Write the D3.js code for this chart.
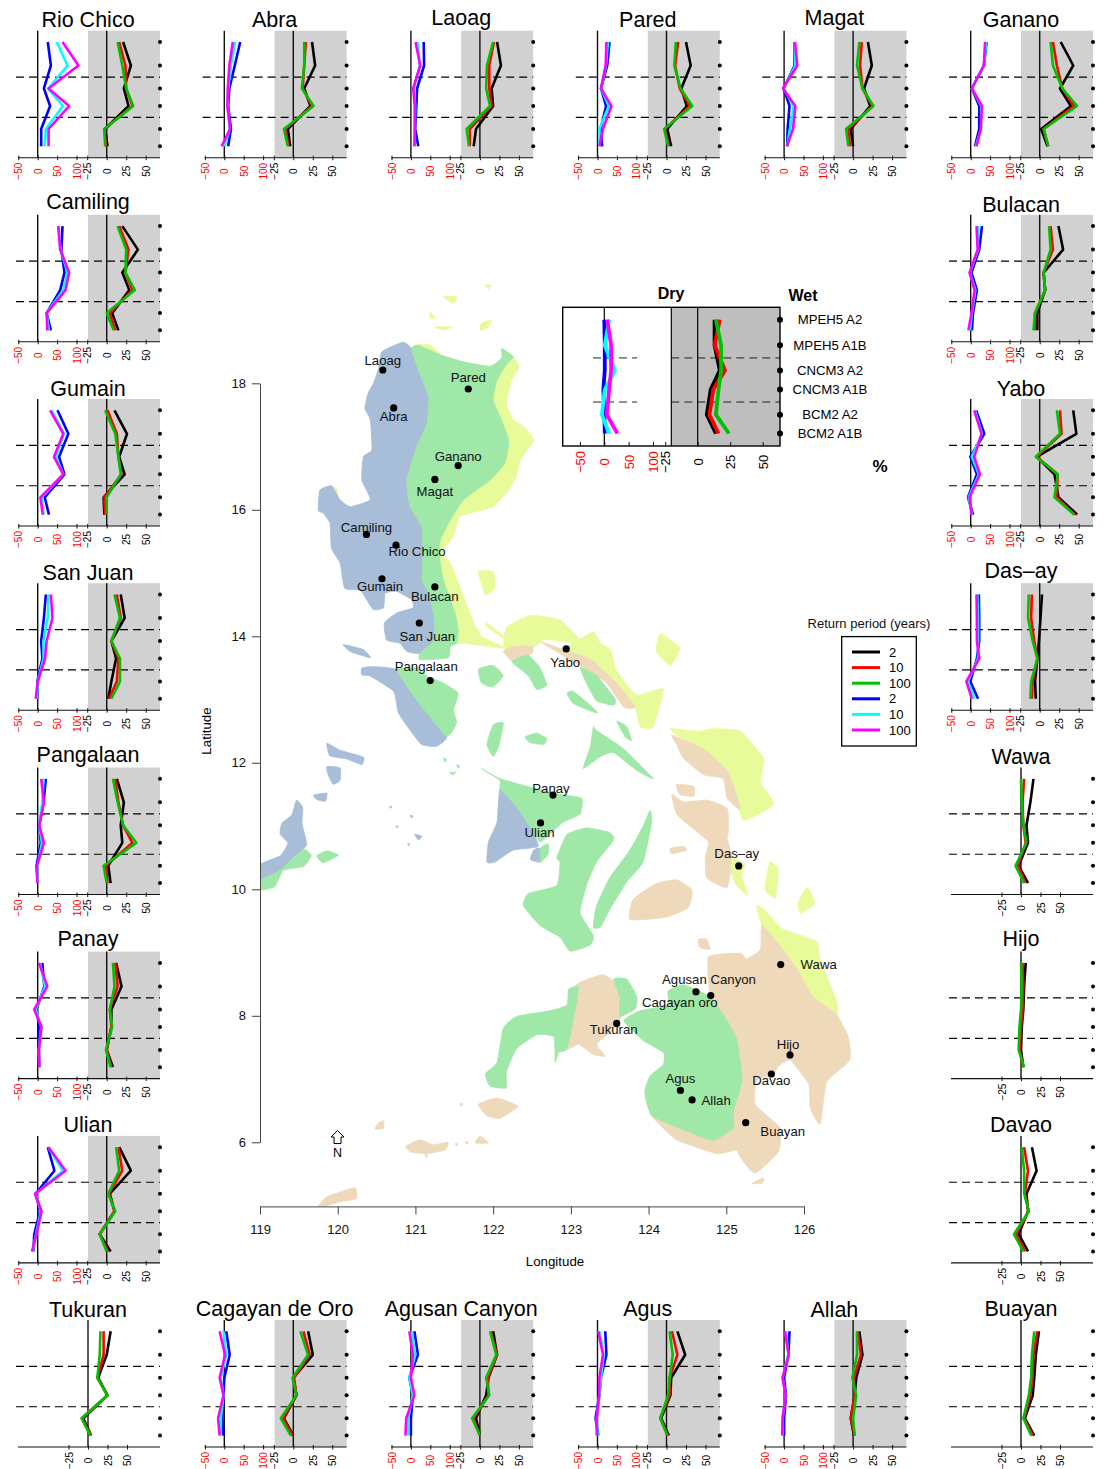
<!DOCTYPE html>
<html>
<head>
<meta charset="utf-8">
<script src="https://cdn.jsdelivr.net/npm/d3@7/dist/d3.min.js"></script>
<style>
	html, body { margin: 0; padding: 0; background: #fff; }
	svg { display: block; font-family: "Liberation Sans", Arial, sans-serif; }
</style>
</head>
<body>
<div id="grafico"></div>
<script>
'use strict';

var models = ["MPEH5 A2", "MPEH5 A1B", "CNCM3 A2", "CNCM3 A1B", "BCM2 A2", "BCM2 A1B"];
var returnPeriods = [2, 10, 100, 2, 10, 100];
var seriesColors = ["#000000", "#ff0000", "#00c000", "#0000ff", "#00ffff", "#ff00ff"];
var dryTicks = [-50, 0, 50, 100];
var wetTicks = [-25, 0, 25, 50];
var lonTicks = [119, 120, 121, 122, 123, 124, 125, 126];
var latTicks = [6, 8, 10, 12, 14, 16, 18];

var basins = ["Rio Chico", "Abra", "Laoag", "Pared", "Magat", "Ganano",
	"Camiling", "Bulacan", "Gumain", "Yabo", "San Juan", "Das\u2013ay", "Pangalaan", "Wawa",
	"Panay", "Hijo", "Ulian", "Davao",
	"Tukuran", "Cagayan de Oro", "Agusan Canyon", "Agus", "Allah", "Buayan"];

// change in % per model, same order as basins
var wet2 = [
	[21, 31, 22, 28, -2, 1], [24, 28, 14, 22, -7, -4], [22, 27, 15, 17, -5, -8], [25, 31, 19, 26, 1, 6],
	[19, 24, 14, 22, -3, 0], [27, 43, 26, 40, 2, 10], [20, 40, 20, 29, 7, 15], [24, 30, 5, 7, -3, -3],
	[10, 26, 16, 23, -4, -3], [43, 47, -4, 19, 24, 48], [18, 23, 6, 12, 6, 2], [3, 1, -1, -3, -6, -5],
	[13, 22, 18, 20, 2, 5], [16, 12, 7, 9, -3, 9], [12, 19, 6, 6, 0, 8], [6, 4, 3, 1, 0, 3],
	[16, 31, 4, 10, -9, 5], [14, 20, 7, 9, -3, 9], [29, 24, 13, 25, -6, 4], [19, 25, 0, 4, -12, 0],
	[17, 22, 11, 8, -5, 0], [14, 24, 6, 5, -7, 3], [8, 12, 4, 2, -3, 1], [23, 19, 17, 15, 5, 17]
];
var wet10 = [
	[16, 24, 25, 33, -3, -1], [16, 14, 12, 24, -10, -6], [18, 12, 12, 15, -13, -13], [15, 11, 17, 30, -2, 3],
	[11, 9, 12, 25, -6, -4], [17, 22, 29, 44, 5, 11], [16, 28, 24, 33, 4, 11], [14, 17, 5, 7, -6, -6],
	[1, 13, 15, 19, -3, -2], [26, 28, -4, 23, 22, 45], [13, 18, 6, 15, 13, 3], [-10, -11, -7, -3, -9, -10],
	[11, 15, 21, 33, -1, 1], [4, 2, 3, 6, -4, 6], [11, 14, 4, 6, 0, 6], [2, 3, 2, 0, -2, 3],
	[15, 20, 3, 10, -9, 2], [4, 9, 5, 10, -6, 5], [20, 20, 12, 25, -8, 4], [13, 21, 1, 4, -13, -1],
	[14, 22, 10, 11, -8, 0], [7, 14, 4, 4, -8, 2], [6, 10, 1, 2, -3, 2], [21, 16, 15, 12, 4, 15]
];
var wet100 = [
	[14, 20, 25, 34, -3, -2], [14, 14, 11, 26, -12, -7], [17, 9, 8, 13, -17, -14], [12, 10, 18, 33, -3, 2],
	[8, 5, 12, 26, -9, -6], [14, 17, 29, 48, 5, 11], [14, 25, 24, 36, 0, 9], [12, 14, 5, 7, -6, -8],
	[-2, 11, 15, 18, 0, 0], [22, 26, -5, 23, 19, 44], [10, 17, 6, 17, 17, 6], [-14, -15, -9, -3, -11, -12],
	[8, 14, 21, 38, -4, 0], [0, 1, 3, 7, -7, 4], [8, 10, 4, 7, -1, 5], [0, 1, 0, -2, -3, 4],
	[12, 16, 2, 11, -9, 0], [1, 4, 4, 10, -9, 3], [16, 15, 12, 25, -8, 3], [9, 19, -1, 4, -16, -3],
	[13, 21, 8, 12, -10, 0], [4, 8, 4, 2, -8, 1], [5, 5, -1, 4, 0, 2], [17, 14, 13, 10, 3, 13]
];
var dry2 = [
	[26, 34, 16, 32, 9, 9], [41, 27, 13, 10, 17, 10], [33, 34, 16, 14, 11, 19], [31, 25, 9, 22, 8, 12],
	[27, 27, -1, 14, 9, 8], [41, 34, 3, 22, 22, 11], [64, 61, 69, 58, 23, 34], [29, 22, 2, 16, 6, 3],
	[51, 79, 55, 69, 18, 29], [14, 35, -1, 16, -7, 6], [21, 16, 9, 12, -1, -1], [21, 22, 22, 16, -1, 19],
	[21, 15, 4, 8, -3, 0], null, [12, 17, -3, 4, 3, 4], null,
	[26, 43, -5, 6, -9, -11], null, null, [5, 14, 0, -2, -5, -2],
	[9, 18, -4, 5, 0, 0], [20, 23, 9, 5, -5, 2], [14, 11, 0, 5, 0, 0], null
];
var dry10 = [
	[49, 77, 27, 65, 21, 18], [28, 17, 10, 9, 14, 0], [17, 23, 8, 11, 10, 10], [27, 22, 9, 29, 5, 6],
	[28, 29, -1, 25, 15, 8], [40, 34, 3, 27, 27, 13], [53, 59, 77, 66, 23, 29], [18, 19, -2, 12, 3, -2],
	[36, 68, 47, 66, 10, 15], [11, 29, 3, 21, -5, 3], [28, 26, 15, 15, 0, -2], [17, 19, 19, 19, -7, 10],
	[15, 12, 4, 11, 0, 0], null, [6, 19, -5, 9, 3, 4], null,
	[28, 65, -5, 8, -4, -13], null, null, [-2, 5, -9, -2, -9, -9],
	[2, 11, -4, 5, -7, -7], [5, 16, 9, 5, -2, 0], [5, 11, -4, 4, -4, -4], null
];
var dry100 = [
	[64, 105, 28, 81, 28, 28], [22, 13, 9, 8, 15, -7], [12, 24, 6, 10, 10, 9], [23, 21, 9, 36, 14, 5],
	[28, 34, -3, 29, 23, 7], [37, 34, 3, 29, 26, 15], [53, 58, 81, 72, 23, 25], [15, 18, -3, 10, 2, -6],
	[32, 66, 42, 66, 7, 13], [9, 28, 9, 24, -3, 2], [34, 38, 23, 19, 0, -5], [15, 16, 16, 22, -11, 3],
	[9, 16, 4, 16, -2, -1], null, [3, 25, -9, 10, 3, 4], null,
	[28, 72, -7, 10, -3, -15], null, null, [-12, 2, -12, -2, -16, -12],
	[-4, 5, 0, 9, -12, -14], [2, 14, 5, 4, -2, -2], [2, 12, -4, 4, -4, -5], null
];

var insetWet2 = [13, 13, 17, 10, 7, 14];
var insetWet10 = [17, 13, 21, 12, 9, 16];
var insetWet100 = [14, 18, 18, 16, 14, 24];
var insetDry2 = [0, 1, 1, -2, 0, 1];
var insetDry10 = [10, 1, 22, 1, -5, 10];
var insetDry100 = [6, 14, 14, 10, 5, 27];

var sites = ["Laoag", "Abra", "Pared", "Ganano", "Magat", "Camiling", "Rio Chico", "Gumain", "Bulacan", "San Juan",
	"Pangalaan", "Yabo", "Panay", "Ulian", "Das\u2013ay", "Wawa", "Agusan Canyon", "Cagayan oro", "Tukuran", "Hijo",
	"Davao", "Agus", "Allah", "Buayan"];
var siteLon = [120.58, 120.72, 121.68, 121.55, 121.25, 120.37, 120.75, 120.57, 121.25, 121.05,
	121.19, 122.94, 122.77, 122.61, 125.16, 125.70, 124.61, 124.80, 123.59, 125.82,
	125.58, 124.41, 124.56, 125.25];
var siteLat = [18.21, 17.61, 17.91, 16.70, 16.48, 15.61, 15.44, 14.91, 14.78, 14.21,
	13.30, 13.80, 11.49, 11.05, 10.37, 8.81, 8.38, 8.32, 7.88, 7.38,
	7.08, 6.82, 6.67, 6.31];

// land zones, [lon, lat]
var blueLand = [
	[[120.84,18.65],[120.95,18.55],[121.04,18.21],[121.17,17.79],[121.15,17.37],[121.02,17.00],[120.89,16.47],[120.93,16.05],[121.08,15.74],[121.10,15.37],[121.09,14.89],[121.19,14.63],[121.25,14.21],[121.23,13.92],[121.06,13.73],[120.89,13.76],[120.80,13.89],[120.63,13.94],[120.60,14.21],[120.76,14.37],[120.97,14.45],[120.95,14.58],[120.76,14.71],[120.61,14.68],[120.59,14.45],[120.46,14.42],[120.37,14.58],[120.29,14.73],[120.09,14.76],[120.03,15.16],[119.92,15.39],[119.90,15.79],[119.81,15.95],[119.75,15.99],[119.77,16.31],[119.92,16.38],[120.03,16.16],[120.16,16.05],[120.42,16.16],[120.31,16.47],[120.33,16.84],[120.44,16.95],[120.42,17.42],[120.35,17.60],[120.39,17.84],[120.46,18.00],[120.52,18.21],[120.57,18.50]],
	[[120.31,13.50],[120.46,13.52],[120.76,13.47],[121.02,12.99],[121.40,12.42],[121.27,12.26],[121.08,12.29],[120.93,12.52],[120.78,12.79],[120.72,13.13],[120.42,13.37],[120.31,13.39]],
	[[120.07,13.87],[120.33,13.79],[120.42,13.66],[120.16,13.76]],
	[[122.09,11.60],[122.30,11.31],[122.47,11.00],[122.58,10.68],[122.26,10.62],[122.02,10.43],[121.92,10.43],[121.94,10.75],[122.05,11.06]],
	[[122.52,10.62],[122.60,10.65],[122.61,10.43],[122.48,10.47]],
	[[119.00,10.39],[119.26,10.53],[119.36,10.73],[119.26,10.87],[119.28,11.04],[119.41,11.18],[119.47,11.41],[119.55,11.29],[119.54,11.04],[119.60,10.70],[119.43,10.50],[119.26,10.30],[119.00,10.14]],
	[[119.86,12.31],[120.03,12.20],[120.33,12.09],[120.31,11.97],[120.12,12.06],[119.90,12.11]],
	[[119.86,11.94],[120.03,11.92],[120.03,11.72],[119.94,11.66],[119.88,11.80]],
	[[119.69,11.49],[119.86,11.52],[119.84,11.39],[119.73,11.42]],
	[[120.99,10.87],[121.08,10.84],[121.04,10.78]],
	[[120.67,11.31],[120.70,11.31],[120.68,11.28]],
	[[120.93,11.17],[120.97,11.16],[120.95,11.13]],
	[[120.75,11.00],[120.78,11.00],[120.76,10.97]],
	[[120.90,10.72],[120.93,10.72],[120.91,10.69]]
];
var greenLand = [
	[[120.95,18.55],[121.04,18.60],[121.32,18.45],[121.62,18.34],[121.96,18.27],[122.11,18.40],[122.11,18.55],[122.26,18.42],[122.17,18.30],[122.05,18.05],[122.00,17.74],[122.09,17.47],[122.20,17.10],[122.15,16.74],[121.96,16.47],[121.62,16.16],[121.45,15.84],[121.32,15.52],[121.31,15.26],[121.36,14.89],[121.51,14.37],[121.55,14.10],[121.53,13.89],[121.45,13.84],[121.42,13.66],[121.06,13.63],[121.06,13.73],[121.23,13.92],[121.25,14.21],[121.19,14.63],[121.09,14.89],[121.10,15.37],[121.08,15.74],[120.93,16.05],[120.89,16.47],[121.02,17.00],[121.15,17.37],[121.17,17.79],[121.04,18.21]],
	[[120.76,13.47],[121.02,13.50],[121.15,13.37],[121.36,13.26],[121.55,13.10],[121.49,12.84],[121.53,12.63],[121.40,12.42],[121.02,12.99]],
	[[122.24,13.60],[122.45,13.70],[122.60,13.51],[122.69,13.23],[122.56,13.16],[122.45,13.38]],
	[[123.12,13.51],[123.33,13.38],[123.57,13.01],[123.55,12.91],[123.33,12.98],[123.20,13.26]],
	[[121.81,13.48],[122.00,13.54],[122.13,13.38],[122.00,13.20],[121.85,13.26]],
	[[122.95,13.10],[123.03,13.13],[123.25,12.91],[123.35,12.79],[123.25,12.82],[123.03,12.94]],
	[[123.59,12.66],[123.72,12.57],[123.78,12.35],[123.70,12.41]],
	[[122.41,12.41],[122.56,12.47],[122.69,12.38],[122.65,12.29],[122.47,12.32]],
	[[122.00,12.60],[122.13,12.63],[122.07,12.25],[122.00,12.10],[121.92,12.29]],
	[[123.29,12.57],[123.33,12.51],[123.68,12.22],[124.06,11.75],[123.85,11.88],[123.55,12.16],[123.38,12.10],[123.16,11.91],[123.25,12.25]],
	[[121.85,11.91],[122.09,11.75],[122.52,11.60],[122.86,11.50],[123.14,11.44],[123.12,11.19],[122.90,11.06],[122.73,10.87],[122.60,10.75],[122.47,11.00],[122.30,11.31],[122.09,11.60],[122.09,11.72]],
	[[122.61,10.65],[122.71,10.72],[122.71,10.56],[122.61,10.43]],
	[[122.95,10.87],[123.20,10.97],[123.50,10.90],[123.55,10.78],[123.33,10.43],[123.20,10.06],[123.12,9.62],[123.29,9.27],[123.25,9.12],[122.99,9.02],[122.86,9.24],[122.60,9.43],[122.39,9.74],[122.45,9.93],[122.82,10.06],[122.86,10.43],[122.82,10.50]],
	[[124.02,11.25],[124.04,11.06],[123.93,10.43],[123.72,10.12],[123.50,9.68],[123.38,9.40],[123.29,9.40],[123.33,9.74],[123.50,10.18],[123.76,10.62],[123.93,11.00]],
	[[124.25,8.39],[124.45,8.49],[124.79,8.30],[125.01,7.92],[125.14,7.61],[125.20,6.98],[125.09,6.48],[125.09,6.23],[124.83,6.03],[124.45,6.20],[124.04,6.42],[123.95,6.79],[124.02,7.05],[124.19,7.23],[124.19,7.42],[123.93,7.61],[123.68,7.92],[123.89,8.08],[124.25,8.17]],
	[[123.55,8.58],[123.72,8.58],[123.85,8.30],[123.83,8.11],[123.63,7.99],[123.63,8.30]],
	[[122.97,8.42],[123.10,8.46],[123.05,8.05],[122.95,7.48],[122.84,7.42],[122.80,7.26],[122.78,7.67],[122.56,7.70],[122.30,7.48],[122.17,7.11],[122.17,6.86],[121.96,6.89],[121.90,7.08],[122.05,7.26],[122.13,7.80],[122.30,7.99],[122.73,8.08],[122.95,8.17]],
	[[119.00,10.14],[119.26,10.30],[119.56,10.63],[119.66,10.53],[119.56,10.36],[119.30,10.30],[119.19,10.04],[119.00,9.99]],
	[[119.73,10.53],[119.86,10.61],[120.01,10.54],[119.81,10.42]],
	[[121.36,12.08],[121.40,12.05],[121.38,12.01]],
	[[121.44,11.85],[121.52,11.85],[121.48,11.81]],
	[[121.53,11.97],[121.57,11.95],[121.55,11.91]]
];
var yellowLand = [
	[[122.26,18.42],[122.33,18.26],[122.24,18.05],[122.17,17.68],[122.26,17.42],[122.39,17.32],[122.52,17.10],[122.35,16.79],[122.30,16.53],[122.17,16.26],[122.00,16.05],[121.83,15.99],[121.57,15.89],[121.49,15.58],[121.36,15.37],[121.36,15.26],[121.45,15.16],[121.62,14.63],[121.75,14.21],[121.87,13.98],[122.17,13.81],[121.62,13.89],[121.53,13.89],[121.55,14.10],[121.51,14.37],[121.36,14.89],[121.31,15.26],[121.32,15.52],[121.45,15.84],[121.62,16.16],[121.96,16.47],[122.15,16.74],[122.20,17.10],[122.09,17.47],[122.00,17.74],[122.05,18.05],[122.17,18.30]],
	[[120.95,18.55],[121.04,18.62],[121.19,18.60],[121.32,18.45],[121.04,18.50]],
	[[121.81,15.02],[122.00,15.02],[122.02,14.76],[121.90,14.66]],
	[[121.36,19.37],[121.53,19.37],[121.49,19.26]],
	[[121.19,19.13],[121.25,19.03],[121.19,19.03]],
	[[121.85,18.95],[121.98,19.00],[121.92,18.87],[121.83,18.84]],
	[[121.25,18.89],[121.47,18.89],[121.36,18.84]],
	[[121.90,19.55],[121.98,19.55],[121.94,19.49]],
	[[119.92,16.37],[120.01,16.31],[119.97,16.22]],
	[[121.92,14.21],[122.17,13.97],[122.13,13.97],[121.92,14.15]],
	[[122.15,13.79],[122.17,14.14],[122.48,14.33],[122.86,14.26],[123.07,14.01],[123.10,13.89],[122.90,13.92],[122.65,13.95],[122.52,13.82]],
	[[123.07,13.92],[123.29,14.07],[123.38,13.89],[123.51,13.79],[123.59,13.45],[123.85,13.07],[124.19,13.17],[124.06,12.57],[123.89,12.57],[123.83,12.88],[123.59,13.26],[123.25,13.64],[122.90,13.79]],
	[[124.15,14.04],[124.40,13.82],[124.28,13.54],[124.10,13.76]],
	[[124.28,12.54],[124.62,12.50],[124.83,12.54],[125.18,12.50],[125.48,12.07],[125.44,11.69],[125.61,11.34],[125.22,11.09],[125.13,11.50],[125.01,11.88],[124.71,12.22],[124.36,12.44]],
	[[125.07,10.50],[125.24,10.40],[125.20,10.21],[125.28,9.90],[125.13,10.06],[125.05,10.31]],
	[[125.56,10.43],[125.67,10.31],[125.63,9.87],[125.50,9.99]],
	[[126.04,10.03],[126.14,9.78],[125.95,9.62],[125.93,9.81]],
	[[125.39,9.74],[125.50,9.67],[125.73,9.37],[126.16,9.18],[126.21,8.87],[126.42,8.24],[126.42,8.02],[126.12,8.30],[125.91,8.74],[125.73,9.05],[125.46,9.43]]
];
var tanLand = [
	[[122.13,13.76],[122.26,13.84],[122.50,13.84],[122.50,13.73],[122.26,13.60]],
	[[122.60,13.92],[122.90,13.79],[123.25,13.64],[123.59,13.26],[123.83,12.88],[123.68,12.88],[123.46,13.26],[123.16,13.51],[122.73,13.82]],
	[[124.30,12.44],[124.71,12.22],[125.01,11.88],[125.13,11.50],[125.18,11.25],[125.01,11.44],[124.96,11.75],[124.71,11.81],[124.45,12.07],[124.36,12.29]],
	[[124.30,11.50],[124.45,11.38],[124.75,11.41],[125.01,11.28],[125.03,10.94],[125.01,10.81],[125.07,10.50],[125.01,10.03],[124.75,10.18],[124.73,10.50],[124.77,10.75],[124.53,11.00],[124.36,11.19]],
	[[124.36,11.66],[124.58,11.63],[124.58,11.47],[124.40,11.50]],
	[[124.28,10.65],[124.45,10.68],[124.49,10.62],[124.30,10.56]],
	[[123.80,9.84],[124.10,10.09],[124.36,10.15],[124.56,9.99],[124.51,9.71],[124.23,9.56],[123.76,9.52]],
	[[124.64,9.21],[124.75,9.21],[124.79,9.05],[124.66,9.08]],
	[[125.46,9.43],[125.73,9.05],[125.91,8.74],[126.12,8.30],[126.42,8.02],[126.57,7.67],[126.59,7.30],[126.29,6.95],[126.21,6.29],[126.08,6.54],[126.06,6.92],[125.82,7.30],[125.67,7.20],[125.61,7.08],[125.39,6.98],[125.37,6.60],[125.69,6.23],[125.67,5.85],[125.37,5.51],[125.18,5.76],[125.13,5.88],[124.88,5.82],[124.36,6.04],[124.04,6.42],[124.45,6.20],[124.83,6.03],[125.09,6.23],[125.09,6.48],[125.20,6.98],[125.14,7.61],[125.01,7.92],[124.88,8.17],[124.79,8.30],[124.77,8.93],[125.18,8.99],[125.26,8.90],[125.44,9.05]],
	[[123.07,8.49],[123.40,8.65],[123.55,8.55],[123.63,8.30],[123.63,7.92],[123.50,7.73],[123.33,7.55],[123.44,7.36],[123.29,7.39],[123.10,7.55],[122.95,7.48],[123.05,8.05]],
	[[121.81,6.60],[122.05,6.70],[122.32,6.57],[122.09,6.38],[121.92,6.42]],
	[[125.33,5.35],[125.48,5.44],[125.46,5.35]],
	[[120.88,5.94],[121.06,6.04],[121.23,5.96],[121.42,6.00],[121.38,5.88],[121.14,5.82],[120.93,5.85]],
	[[120.52,6.30],[120.59,6.34],[120.59,6.22],[120.48,6.21]],
	[[119.74,4.97],[119.86,5.14],[120.22,5.28],[120.24,5.11],[120.03,5.06],[119.77,4.96]],
	[[121.83,6.10],[121.94,5.99],[121.77,5.99]],
	[[121.57,6.61],[121.61,6.61],[121.59,6.57]],
	[[121.12,5.80],[121.16,5.80],[121.14,5.76]],
	[[121.51,5.98],[121.55,5.98],[121.53,5.94]],
	[[121.64,6.01],[121.68,6.01],[121.66,5.97]]
];

// layout only, no values below this line
var width = 1105, height = 1469;
var panelW = 186.6, panelH = 127;
var rowTop = [30.7, 214.8, 399, 583.2, 767.5, 951.6, 1135.9, 1320];
var basinCol = [0, 1, 2, 3, 4, 5, 0, 5, 0, 5, 0, 5, 0, 5, 0, 5, 0, 5, 0, 1, 2, 3, 4, 5];
var basinRow = [0, 0, 0, 0, 0, 0, 1, 1, 2, 2, 3, 3, 4, 4, 5, 5, 6, 6, 7, 7, 7, 7, 7, 7];
var titleDy = [-11, -11, -13, -11, -13, -11, -13, -10, -11, -11, -11, -13, -13, -11, -13, -13, -11, -11, -11, -12, -12, -12, -11, -12];
var siteLabelDx = [0, 0, 0, 0, 0, 0, 21, -2, 0, 8, -4, -1, -2, -1, -2, 38, 13, -31, -3, -2, 0, 0, 24, 37];
var siteLabelDy = [-10, 8, -12, -9, 12, -7, 6, 8, 9, 13, -14, 13, -7, 10, -13, 0, -12, 7, 6, -11, 6, -12, 0, 9];
var modelFrac = [0.089, 0.274, 0.455, 0.593, 0.774, 0.910];
var dashFrac = [0.365, 0.683];

var svg = d3.select("#grafico").append("svg")
	.attr("width", width)
	.attr("height", height)
	.attr("viewBox", "0 0 " + width + " " + height);

function rowScale(top, h) {
	return d3.scaleOrdinal(models, modelFrac.map(function (f) { return top + f * h; }));
}

function drawSeries(g, values, x, y, color, w) {
	var line = d3.line()
		.x(function (d) { return x(d); })
		.y(function (d, i) { return y(models[i]); });
	g.append("path")
		.datum(values)
		.attr("d", line)
		.attr("fill", "none")
		.attr("stroke", color)
		.attr("stroke-width", w)
		.attr("stroke-linejoin", "round");
}

function styleAxis(g, color, fontSize, labelY, y1, y2) {
	g.select(".domain").remove();
	g.selectAll(".tick line").attr("stroke", "#111").attr("y1", y1).attr("y2", y2);
	g.selectAll(".tick text")
		.attr("fill", color)
		.attr("font-size", fontSize)
		.attr("text-anchor", "middle")
		.attr("dy", null)
		.attr("y", null)
		.attr("dominant-baseline", null)
		.attr("transform", "translate(0," + labelY + ") rotate(-90) translate(0," + (fontSize * 0.35) + ")");
	g.attr("font-family", null).attr("font-size", null);
}

function drawPanel(i) {
	var col = basinCol[i], top = rowTop[basinRow[i]], off = col * panelW;
	var hasDry = dry2[i] !== null;
	var g = svg.append("g").attr("class", "panel");
	var y = rowScale(top, panelH);
	var bottom = top + panelH;

	var wetZero = hasDry ? 106.7 : 88;
	var xWet = d3.scaleLinear().domain([0, 50]).range([off + wetZero, off + wetZero + 39]);
	var xDry = d3.scaleLinear().domain([0, 100]).range([off + 37.7, off + 76.5]);
	var right = off + 160;

	if (hasDry) {
		g.append("rect")
			.attr("x", off + 88).attr("y", top)
			.attr("width", right - off - 88).attr("height", panelH)
			.attr("fill", "#d1d1d1");
	}

	dashFrac.forEach(function (f) {
		g.append("line")
			.attr("x1", off + 16).attr("x2", right)
			.attr("y1", top + f * panelH).attr("y2", top + f * panelH)
			.attr("stroke", "#000").attr("stroke-width", 1.2)
			.attr("stroke-dasharray", "8,5");
	});

	if (hasDry) {
		g.append("line")
			.attr("x1", xDry(0)).attr("x2", xDry(0))
			.attr("y1", top).attr("y2", bottom)
			.attr("stroke", "#111").attr("stroke-width", 1.4);
	}
	g.append("line")
		.attr("x1", xWet(0)).attr("x2", xWet(0))
		.attr("y1", top).attr("y2", bottom)
		.attr("stroke", "#111").attr("stroke-width", 1.4);

	g.append("line")
		.attr("x1", off + 18).attr("x2", right)
		.attr("y1", bottom).attr("y2", bottom)
		.attr("stroke", "#111").attr("stroke-width", 1.1);

	if (hasDry) {
		var axDry = g.append("g").attr("transform", "translate(0," + bottom + ")")
			.call(d3.axisBottom(xDry).tickValues(dryTicks).tickSize(3));
		styleAxis(axDry, "#ff0000", 10, 13.5, -2, 2.5);
	}
	var axWet = g.append("g").attr("transform", "translate(0," + bottom + ")")
		.call(d3.axisBottom(xWet).tickValues(wetTicks).tickSize(3));
	styleAxis(axWet, "#000", 10, 13.5, -2, 2.5);

	[wet2, wet10, wet100].forEach(function (s, k) {
		drawSeries(g, s[i], xWet, y, seriesColors[k], 2.6);
	});
	if (hasDry) {
		[dry2, dry10, dry100].forEach(function (s, k) {
			drawSeries(g, s[i], xDry, y, seriesColors[k + 3], 2.6);
		});
	}

	g.selectAll("circle.model")
		.data(models)
		.enter().append("circle")
		.attr("class", "model")
		.attr("cx", right)
		.attr("cy", function (d) { return y(d); })
		.attr("r", 2)
		.attr("fill", "#000");

	g.append("text")
		.attr("x", off + 88)
		.attr("y", top + titleDy[i])
		.attr("dy", ".35em")
		.attr("text-anchor", "middle")
		.attr("font-size", 21.5)
		.text(basins[i]);
}

basins.forEach(function (b, i) { drawPanel(i); });

// map
var xLon = d3.scaleLinear().domain([119, 126]).range([260, 804]);
var yLat = d3.scaleLinear().domain([18, 6]).range([383.3, 1142.3]);

svg.append("clipPath").attr("id", "recorte")
	.append("rect").attr("x", 260).attr("y", 270).attr("width", 620).attr("height", 936.4);

var land = d3.line()
	.x(function (d) { return xLon(d[0]); })
	.y(function (d) { return yLat(d[1]); })
	.curve(d3.curveCardinalClosed.tension(0.55));

var mapa = svg.append("g").attr("clip-path", "url(#recorte)");
[[yellowLand, "#e8fb9b"], [tanLand, "#efd9bb"], [blueLand, "#a7bdd8"], [greenLand, "#9fe8a7"]].forEach(function (z) {
	mapa.selectAll(null)
		.data(z[0])
		.enter().append("path")
		.attr("d", land)
		.attr("fill", z[1])
		.attr("stroke", z[1])
		.attr("stroke-width", 0.8);
});

var axLat = svg.append("g").attr("transform", "translate(260,0)")
	.call(d3.axisLeft(yLat).tickValues(latTicks).tickFormat(d3.format("d")).tickSize(8).tickSizeOuter(0).tickPadding(6));
var axLon = svg.append("g").attr("transform", "translate(0,1206.4)")
	.call(d3.axisBottom(xLon).tickValues(lonTicks).tickFormat(d3.format("d")).tickSize(8).tickSizeOuter(0).tickPadding(10));
[axLat, axLon].forEach(function (a) {
	a.attr("font-family", null).attr("font-size", 13);
	a.selectAll(".domain, .tick line").attr("stroke", "#444");
	a.selectAll(".tick text").attr("fill", "#111");
});

svg.append("text")
	.attr("transform", "translate(206,731) rotate(-90)")
	.attr("dy", ".35em").attr("text-anchor", "middle").attr("font-size", 13.3)
	.text("Latitude");
svg.append("text")
	.attr("x", 555).attr("y", 1261)
	.attr("dy", ".35em").attr("text-anchor", "middle").attr("font-size", 13.3)
	.text("Longitude");

var sitio = svg.selectAll("g.site")
	.data(sites)
	.enter().append("g")
	.attr("class", "site")
	.attr("transform", function (d, i) { return "translate(" + xLon(siteLon[i]) + "," + yLat(siteLat[i]) + ")"; });
sitio.append("circle").attr("r", 3.6).attr("fill", "#000");
sitio.append("text")
	.attr("x", function (d, i) { return siteLabelDx[i]; })
	.attr("y", function (d, i) { return siteLabelDy[i]; })
	.attr("dy", ".35em")
	.attr("text-anchor", "middle")
	.attr("font-size", 13.2)
	.attr("fill", "#111")
	.text(function (d) { return d; });

// north arrow
svg.append("path")
	.attr("d", "M337.5,1130.5 L344,1137 L341,1137 L341,1143.5 L334,1143.5 L334,1137 L331,1137 Z")
	.attr("fill", "#fff").attr("stroke", "#000").attr("stroke-width", 1);
svg.append("text")
	.attr("x", 337.5).attr("y", 1153)
	.attr("dy", ".35em").attr("text-anchor", "middle").attr("font-size", 12.5)
	.text("N");

// inset with the average over all basins
function drawInset() {
	var g = svg.append("g");
	var left = 562.7, mid = 671.3, right = 780, top = 307.3, h = 138.7;
	var bottom = top + h;
	var y = rowScale(top, h);
	var xDry = d3.scaleLinear().domain([0, 100]).range([604.3, 653]);
	var xWet = d3.scaleLinear().domain([0, 50]).range([697.7, 762.7]);

	g.append("rect").attr("x", mid).attr("y", top).attr("width", right - mid).attr("height", h).attr("fill", "#bebebe");

	dashFrac.forEach(function (f) {
		g.append("line").attr("x1", 593).attr("x2", 637)
			.attr("y1", top + f * h).attr("y2", top + f * h)
			.attr("stroke", "#222").attr("stroke-width", 1).attr("stroke-dasharray", "8,5");
		g.append("line").attr("x1", mid).attr("x2", right)
			.attr("y1", top + f * h).attr("y2", top + f * h)
			.attr("stroke", "#222").attr("stroke-width", 1).attr("stroke-dasharray", "8,5");
	});

	g.append("line").attr("x1", xDry(0)).attr("x2", xDry(0)).attr("y1", top).attr("y2", bottom).attr("stroke", "#000").attr("stroke-width", 1.2);
	g.append("line").attr("x1", xWet(0)).attr("x2", xWet(0)).attr("y1", top).attr("y2", bottom).attr("stroke", "#000").attr("stroke-width", 1.2);

	[insetWet2, insetWet10, insetWet100].forEach(function (s, k) {
		drawSeries(g, s, xWet, y, seriesColors[k], 3.8);
	});
	[insetDry2, insetDry10, insetDry100].forEach(function (s, k) {
		drawSeries(g, s, xDry, y, seriesColors[k + 3], 3.8);
	});

	g.append("rect").attr("x", left).attr("y", top).attr("width", right - left).attr("height", h)
		.attr("fill", "none").attr("stroke", "#000").attr("stroke-width", 1.4);
	g.append("line").attr("x1", mid).attr("x2", mid).attr("y1", top).attr("y2", bottom).attr("stroke", "#000").attr("stroke-width", 1.2);

	var axDry = g.append("g").attr("transform", "translate(0," + bottom + ")")
		.call(d3.axisBottom(xDry).tickValues(dryTicks).tickSize(3));
	styleAxis(axDry, "#ff0000", 13, 16, -4, 0);
	var axWet = g.append("g").attr("transform", "translate(0," + bottom + ")")
		.call(d3.axisBottom(xWet).tickValues(wetTicks).tickSize(3));
	styleAxis(axWet, "#000", 13, 16, -4, 0);

	g.selectAll("circle.model")
		.data(models)
		.enter().append("circle")
		.attr("cx", right)
		.attr("cy", function (d) { return y(d); })
		.attr("r", 3)
		.attr("fill", "#000");

	g.selectAll("text.model")
		.data(models)
		.enter().append("text")
		.attr("class", "model")
		.attr("x", 830)
		.attr("y", function (d) { return y(d); })
		.attr("dy", ".35em")
		.attr("text-anchor", "middle")
		.attr("font-size", 13.2)
		.text(function (d) { return d; });

	g.append("text").attr("x", 671).attr("y", 293).attr("dy", ".35em").attr("text-anchor", "middle")
		.attr("font-size", 16).attr("font-weight", "bold").text("Dry");
	g.append("text").attr("x", 803).attr("y", 295).attr("dy", ".35em").attr("text-anchor", "middle")
		.attr("font-size", 16).attr("font-weight", "bold").text("Wet");
	g.append("text").attr("x", 880).attr("y", 466).attr("dy", ".35em").attr("text-anchor", "middle")
		.attr("font-size", 17).attr("font-weight", "bold").text("%");
}
drawInset();

// legend
var leyenda = svg.append("g");
leyenda.append("text")
	.attr("x", 869).attr("y", 623)
	.attr("dy", ".35em").attr("text-anchor", "middle").attr("font-size", 13)
	.attr("fill", "#111")
	.text("Return period (years)");
leyenda.append("rect")
	.attr("x", 841.7).attr("y", 636.6).attr("width", 74.6).attr("height", 109.4)
	.attr("fill", "#fff").attr("stroke", "#000").attr("stroke-width", 1.3);
var yLeg = d3.scalePoint().domain(d3.range(returnPeriods.length)).range([652, 730]);
returnPeriods.forEach(function (p, i) {
	leyenda.append("line")
		.attr("x1", 852).attr("x2", 880)
		.attr("y1", yLeg(i)).attr("y2", yLeg(i))
		.attr("stroke", seriesColors[i]).attr("stroke-width", 3);
	leyenda.append("text")
		.attr("x", 889).attr("y", yLeg(i))
		.attr("dy", ".35em").attr("font-size", 13)
		.text(p);
});
</script>
</body>
</html>
